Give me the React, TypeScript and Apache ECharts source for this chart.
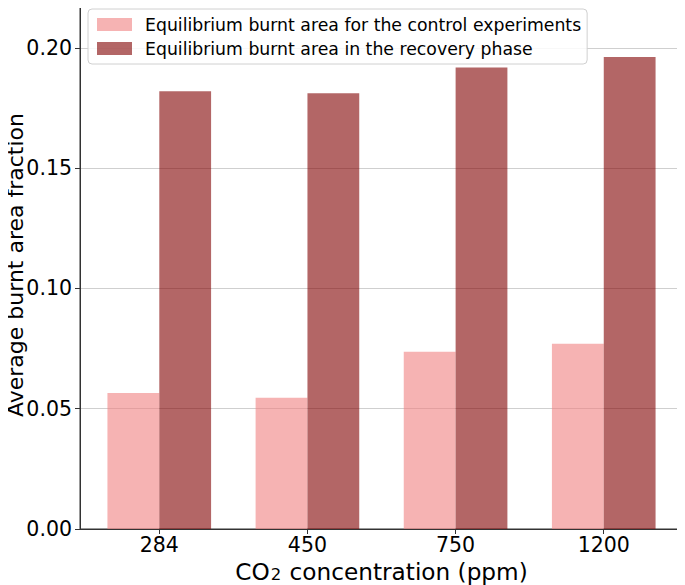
import React, { useEffect, useRef } from "react";
import * as echarts from "echarts";

const categories = ["284", "450", "750", "1200"];
const controlValues = [0.0565, 0.0546, 0.0737, 0.077];
const recoveryValues = [0.182, 0.1811, 0.1919, 0.1962];
const yTicks = [0, 0.05, 0.1, 0.15, 0.2];
const seriesNames = [
  "Equilibrium burnt area for the control experiments",
  "Equilibrium burnt area in the recovery phase",
];

const BAR_W = 0.35;

export default function App() {
  const ref = useRef<HTMLDivElement>(null);
  useEffect(() => {
    if (!ref.current) return;
    const chart = echarts.init(ref.current, null, { renderer: "svg" });
    const font = "DejaVu Sans";
    const catIdx = categories.map((_, i) => i);
    chart.setOption({
      animation: false,
      textStyle: { fontFamily: font },
      grid: {
        left: 80,
        right: 2,
        top: 1,
        height: 528,
        show: true,
        borderColor: "#333",
        borderWidth: 1,
        backgroundColor: "transparent",
        outerBoundsMode: "none",
        containLabel: false,
      },
      legend: {
        left: 88,
        top: 9,
        orient: "vertical",
        itemWidth: 35,
        itemHeight: 13,
        itemGap: 7,
        padding: [7, 6, 7, 9],
        backgroundColor: "rgba(255,255,255,0.85)",
        borderColor: "#d0d0d0",
        borderWidth: 1,
        borderRadius: 4,
        icon: "rect",
        textStyle: { fontFamily: font, fontSize: 17.3, color: "#000", padding: [0, 0, 0, 8] },
        data: seriesNames,
      },
      xAxis: {
        type: "value",
        min: -0.5 - BAR_W / 2 + 0.14,
        max: categories.length - 0.5 + BAR_W / 2 - 0.14,
        splitLine: { show: false },
        axisLine: { show: true, onZero: false, lineStyle: { color: "#333", width: 1 } },
        axisTick: { show: true, customValues: catIdx, length: 5, lineStyle: { color: "#333" } },
        axisLabel: {
          customValues: catIdx,
          formatter: (v: number) => categories[Math.round(v)] ?? "",
          fontSize: 20.5,
          lineHeight: 20,
          color: "#000",
          fontFamily: font,
          margin: 6,
        },
        name: "{a|CO}{b|2}{a| concentration (ppm)}",
        nameLocation: "middle",
        nameGap: 30,
        nameMoveOverlap: false,
        nameTextStyle: {
          rich: {
            a: { fontSize: 23.2, lineHeight: 24, fontFamily: font, color: "#000" },
            b: { fontSize: 16.5, lineHeight: 24, fontFamily: font, color: "#000", verticalAlign: "bottom", padding: [9, 1, 0, 1] },
          },
        },
      },
      yAxis: {
        type: "value",
        min: 0,
        max: 0.2195,
        interval: 0.05,
        axisLine: { show: true, onZero: false, lineStyle: { color: "#333", width: 1 } },
        axisTick: { show: true, length: 5, lineStyle: { color: "#333" } },
        splitLine: { show: true, lineStyle: { color: "#cfcfcf", width: 1 } },
        axisLabel: {
          formatter: (v: number) => (yTicks.some((t) => Math.abs(t - v) < 1e-9) ? v.toFixed(2) : ""),
          fontSize: 20.5,
          color: "#000",
          fontFamily: font,
          margin: 8,
        },
        name: "Average burnt area fraction",
        nameLocation: "middle",
        nameGap: 54,
        nameMoveOverlap: false,
        nameTextStyle: { fontSize: 22, color: "#000", fontFamily: font },
      },
      series: [
        {
          name: seriesNames[0],
          type: "bar",
          barWidth: 51.8,
          barGap: "-100%",
          itemStyle: { color: "rgba(240,128,128,0.6)" },
          data: controlValues.map((v, i) => [i - BAR_W / 2, v]),
        },
        {
          name: seriesNames[1],
          type: "bar",
          barWidth: 51.8,
          barGap: "-100%",
          itemStyle: { color: "rgba(128,0,0,0.6)" },
          data: recoveryValues.map((v, i) => [i + BAR_W / 2, v]),
        },
      ],
    });
    return () => chart.dispose();
  }, []);
  return <div ref={ref} style={{ width: 685, height: 585, marginLeft: -8, marginTop: -8 }} />;
}
